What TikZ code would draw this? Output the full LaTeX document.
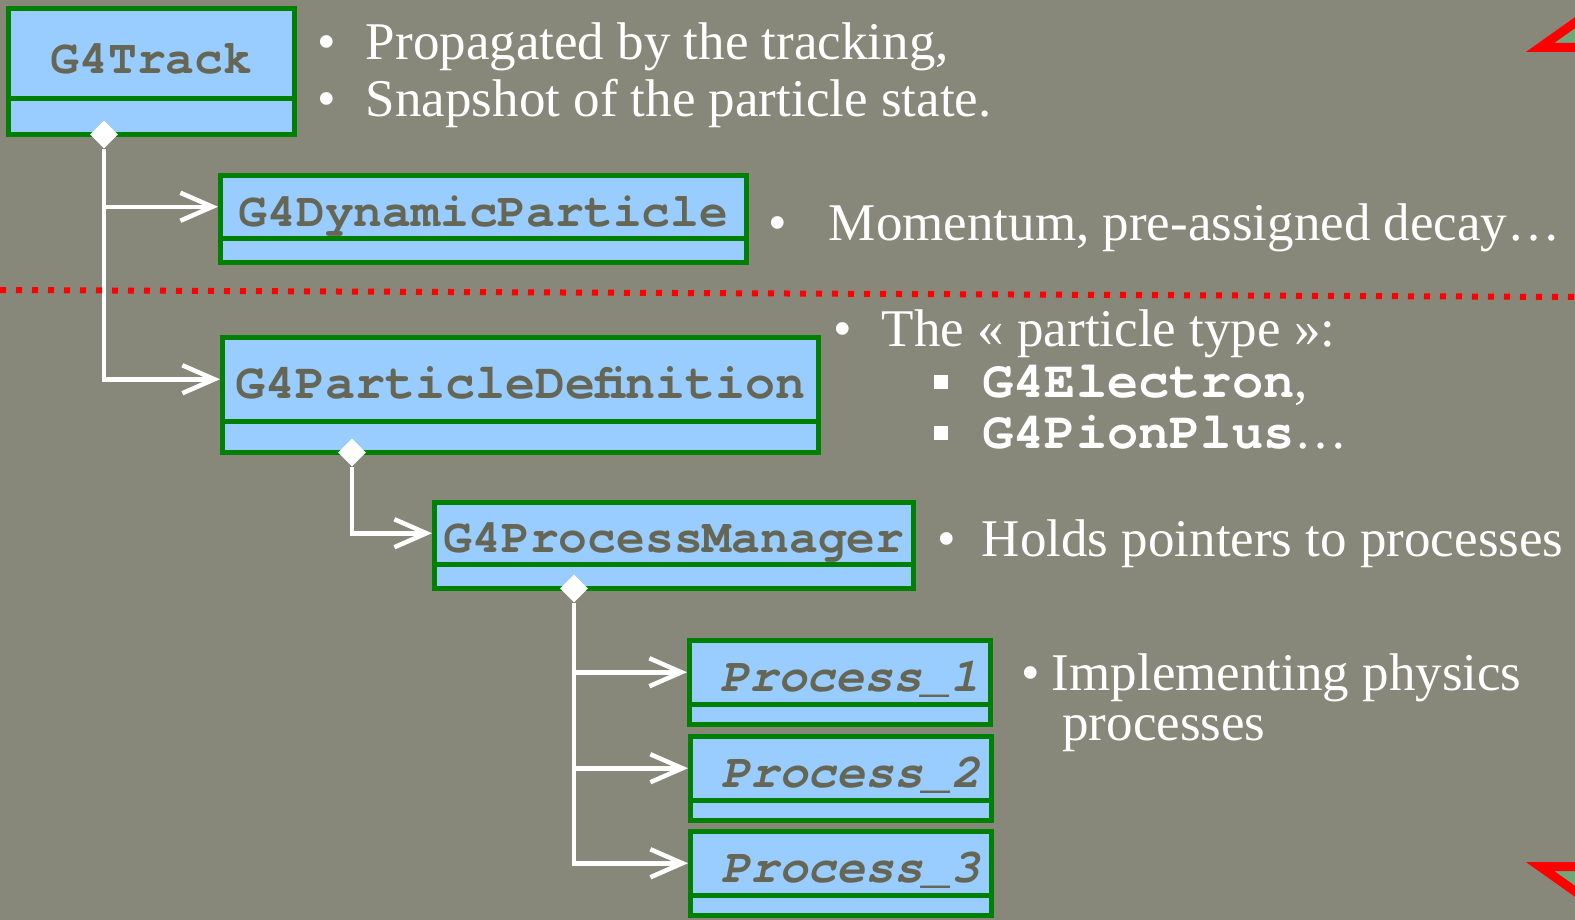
\documentclass[tikz,border=0pt]{standalone}
\usepackage{fontspec}
\setmainfont{Liberation Serif}
\setmonofont{TeX Gyre Cursor}
\usetikzlibrary{arrows.meta,positioning,shapes.geometric}
\definecolor{slide}{RGB}{135,136,121}
\definecolor{classfill}{RGB}{153,204,255}
\definecolor{classedge}{RGB}{0,128,0}
\definecolor{classtext}{RGB}{102,102,85}
\definecolor{cornerfill}{RGB}{112,168,122}
\newcommand{\sqbullet}{\rule[4pt]{7pt}{7pt}}
\newcommand{\clsname}[1]{{\fontsize{26}{28}\selectfont\ttfamily\bfseries #1}}

\begin{document}
\begin{tikzpicture}[
  x=0.5pt, y=-0.5pt,
  classbox/.style={rectangle, draw=classedge, fill=classfill, line width=2.5pt,
                   inner sep=0pt, anchor=north west, text=classtext,
                   font={\fontsize{24}{28}\selectfont\ttfamily\bfseries},
                   text height=19.5pt, text depth=0pt},
  procbox/.style={classbox,
                  font={\fontsize{24}{28}\selectfont\ttfamily\bfseries\itshape}},
  classfoot/.style={rectangle, draw=classedge, fill=classfill, line width=2.5pt,
                    inner sep=0pt},
  dia/.style={diamond, fill=white, inner sep=0pt, minimum width=14pt,
              minimum height=14pt},
  link/.style={draw=white, line width=2.25pt,
               -{Straight Barb[length=16pt,width=14pt]}},
  note/.style={anchor=base west, inner sep=0pt, text=white,
               font={\fontsize{26.5}{28.5}\selectfont}},
  seprule/.style={draw=red, line width=3pt, dash pattern=on 3pt off 5pt},
  corner/.style={draw=red, fill=cornerfill, line width=4.5pt, line join=miter}
]
  % slide background
  \path[fill=slide, use as bounding box] (0,0) rectangle (1575,920);
  \clip (0,0) rectangle (1575,920);

  % corner marks
  \draw[corner] (1540,47.5) -- (1600,47.5) -- (1600,5) -- cycle;
  \draw[corner] (1540,866.5) -- (1600,866.5) -- (1600,909) -- cycle;

  % separator
  \draw[seprule] (0,290) -- (1575,297);

  % classes
  \node[classbox, minimum width=143pt, minimum height=45.25pt] (track) at (6,6) {G4Track};
  \node[classfoot, minimum width=143pt, minimum height=17.75pt, below=-2.5pt of track] (trackfoot) {};

  \node[classbox, minimum width=263pt, minimum height=31.25pt] (dyn) at (218,173) {G4DynamicParticle};
  \node[classfoot, minimum width=263pt, minimum height=12.25pt, below=-2.5pt of dyn] (dynfoot) {};

  \node[classbox, minimum width=298pt, minimum height=41.75pt,
        font={\fontsize{25}{28}\selectfont\ttfamily\bfseries}] (pdef) at (220,335) {G4ParticleDefinition};
  \node[classfoot, minimum width=298pt, minimum height=15.75pt, below=-2.5pt of pdef] (pdeffoot) {};

  \node[classbox, minimum width=239.5pt, minimum height=30.75pt] (pm) at (432,500) {G4ProcessManager};
  \node[classfoot, minimum width=239.5pt, minimum height=12.25pt, below=-2.5pt of pm] (pmfoot) {};

  \node[procbox, minimum width=150.5pt, minimum height=31.75pt] (p1) at (687,638) {\hspace*{10pt}Process\_1};
  \node[classfoot, minimum width=150.5pt, minimum height=10.25pt, below=-2.5pt of p1] (p1foot) {};
  \node[procbox, minimum width=150.5pt, minimum height=31.75pt] (p2) at (688,734) {\hspace*{10pt}Process\_2};
  \node[classfoot, minimum width=150.5pt, minimum height=10.25pt, below=-2.5pt of p2] (p2foot) {};
  \node[procbox, minimum width=150.5pt, minimum height=31.75pt] (p3) at (688,829) {\hspace*{10pt}Process\_3};
  \node[classfoot, minimum width=150.5pt, minimum height=10.25pt, below=-2.5pt of p3] (p3foot) {};

  % aggregation links
  \node[dia] (trackdia) at (104,134.5) {};
  \node[dia] (pdefdia) at (352,452.5) {};
  \node[dia] (pmdia) at (574,588.5) {};
  \draw[link] (trackdia.south) |- (dyn.west);
  \draw[link] (trackdia.south) |- (pdef.west);
  \draw[link] (pdefdia.south) |- (pm.west);
  \draw[link] (pmdia.south) |- (p1.west);
  \draw[link] (pmdia.south) |- (p2.west);
  \draw[link] (pmdia.south) |- (p3.west);

  % notes
  \node[note] (tracknote) at (317,60) {\textbullet\hspace{15pt}Propagated by the tracking,};
  \node[note] (tracknote2) at (317,117) {\textbullet\hspace{15pt}Snapshot of the particle state.};
  \node[note] (dynnote) at (768,241) {\textbullet\hspace{21pt}Momentum, pre-assigned decay…};
  \node[note] (pdefnote) at (833,346) {\textbullet\hspace{15pt}The « particle type »:};
  \node[note] (elecnote) at (934,397) {\sqbullet\hspace{17pt}\clsname{G4Electron},};
  \node[note] (pionnote) at (934,448) {\sqbullet\hspace{17pt}\clsname{G4PionPlus}…};
  \node[note] (pmnote) at (937,556) {\textbullet\hspace{13pt}Holds pointers to processes};
  \node[note] (procnote) at (1021,690) {\textbullet\hspace{6pt}Implementing physics};
  \node[note] (procnote2) at (1062,740) {processes};
\end{tikzpicture}
\end{document}
